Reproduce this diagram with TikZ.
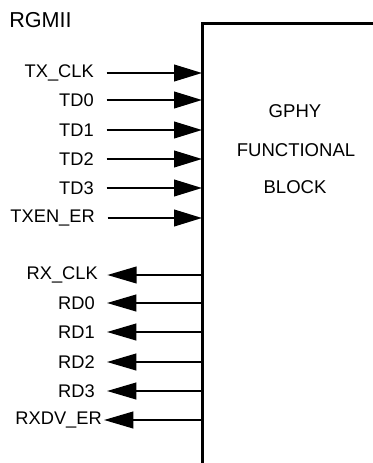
\documentclass[tikz,border=0pt]{standalone}
\usepackage{fontspec}
\setmainfont{Liberation Sans}
\usetikzlibrary{arrows.meta}
\tikzset{
  pinlbl/.style={anchor=east, inner sep=0pt, font=\fontsize{13.7}{16}\selectfont},
  blktxt/.style={inner sep=0pt, font=\fontsize{13.9}{16}\selectfont},
  sigin/.style={line width=1.5pt, shorten <=9.5pt, -{Triangle[length=21pt,width=12.5pt]}},
  sigout/.style={line width=1.5pt, -{Triangle[length=22pt,width=12.5pt]}},
  blkedge/.style={line width=2.25pt}
}

\begin{document}
\begin{tikzpicture}[x=0.75pt, y=-0.75pt]
	%%%%% START %%%%%
	\useasboundingbox (0, 0) rectangle (373, 463);
	
	\node[anchor=west, inner sep=0pt, font=\fontsize{16.2}{18}\selectfont] (rgmii) at (9, 20) {RGMII};
	
	% the block, open to the right and below
	\coordinate (blk) at (202, 24);
	\draw[blkedge] (202, 463) |- (373, 24);
	\node[blktxt] (gphy) at (295, 111) {GPHY};
	\node[blktxt] (func) at (296, 150) {FUNCTIONAL};
	\node[blktxt] (block) at (295, 187) {BLOCK};
	
	% transmit side
	\node[pinlbl] (txclk) at (94, 73) {TX\_CLK};
	\node[pinlbl] (td0) at (94, 100) {TD0};
	\node[pinlbl] (td1) at (94, 130) {TD1};
	\node[pinlbl] (td2) at (94, 159) {TD2};
	\node[pinlbl] (td3) at (94, 188) {TD3};
	\node[pinlbl] (txen) at (95, 218) {TXEN\_ER};
	
	\draw[sigin] (txclk) -- (txclk -| blk);
	\draw[sigin] (td0) -- (td0 -| blk);
	\draw[sigin] (td1) -- (td1 -| blk);
	\draw[sigin] (td2) -- (td2 -| blk);
	\draw[sigin] (td3) -- (td3 -| blk);
	\draw[sigin] (txen) -- (txen -| blk);
	
	% receive side
	\node[pinlbl] (rxclk) at (98, 275) {RX\_CLK};
	\node[pinlbl] (rd0) at (95, 303) {RD0};
	\node[pinlbl] (rd1) at (95, 332) {RD1};
	\node[pinlbl] (rd2) at (95, 362) {RD2};
	\node[pinlbl] (rd3) at (95, 391) {RD3};
	\node[pinlbl] (rxdv) at (102, 420) {RXDV\_ER};
	
	\draw[sigout, shorten >=7pt] (rxclk -| blk) -- (rxclk);
	\draw[sigout, shorten >=9pt] (rd0 -| blk) -- (rd0);
	\draw[sigout, shorten >=9pt] (rd1 -| blk) -- (rd1);
	\draw[sigout, shorten >=9pt] (rd2 -| blk) -- (rd2);
	\draw[sigout, shorten >=9pt] (rd3 -| blk) -- (rd3);
	\draw[sigout, shorten >=1.5pt] (rxdv -| blk) -- (rxdv);
	%%%%% END %%%%%
\end{tikzpicture}
\end{document}
